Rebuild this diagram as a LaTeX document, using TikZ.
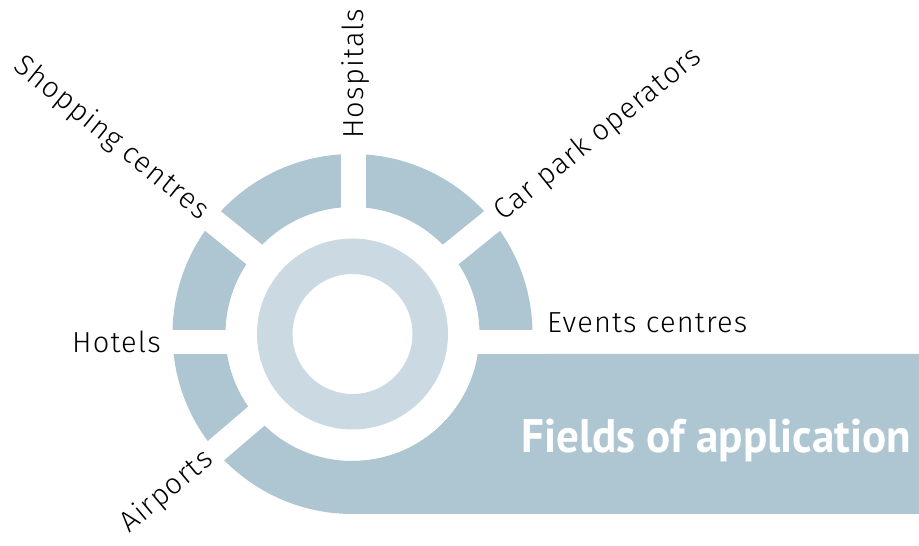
\documentclass[tikz,border=0pt]{standalone}
\usepackage{fontspec}
\setmainfont{Fira Sans}
\newfontfamily\lightfont{Fira Sans Light}[LetterSpace=4]
\newfontfamily\boldfont{PT Sans Bold}
\definecolor{segcol}{HTML}{AEC6D1}
\definecolor{ringcol}{HTML}{CBDAE2}
\newlength\titlewd
\newcommand\fittitle[2]{\settowidth\titlewd{#2}\pgfmathsetmacro\titleratio{#1/\titlewd}\scalebox{\titleratio}[1]{#2}}
\begin{document}
\begin{tikzpicture}[x=1pt,y=1pt,
  gapline/.style={draw=white,line width=25pt},
  lab/.style={inner sep=0pt,font=\lightfont\fontsize{29}{34}\selectfont,text=black}]
\useasboundingbox (0,0) rectangle (919,546);
\coordinate (c) at (352.5,212);
% outer ring
\fill[segcol,even odd rule] (c) circle (180) (c) circle (127);
% banner
\fill[segcol] (352.5,32) -- (919,32) -- (919,192) -- (477.9,192)
  arc[start angle=-9.06,end angle=-90,radius=127] -- cycle;
% gaps
\draw[gapline] ([shift={(90:100)}]c) ++(1,0) -- ++(0,88);
\draw[gapline] ([shift={(39:100)}]c) -- ([shift={(39:186)}]c);
\draw[gapline] ([shift={(141:100)}]c) -- ([shift={(141:186)}]c);
\draw[gapline] ([shift={(220.5:100)}]c) -- ([shift={(220.5:186)}]c);
\fill[white] (160,192) rectangle (250,216);
\fill[white] (455,192) rectangle (545,216);
% inner ring
\fill[ringcol,even odd rule] (c) circle (95.5) (c) circle (60);
% labels
\node[lab,anchor=base west,rotate=90] (hosp) at (363.5,407) {Hospitals};
\node[lab,anchor=east,rotate=-39] (shop) at ([shift={(141:190)}]c) {Shopping centres};
\node[lab,anchor=west,rotate=39] (car) at ([shift={(39:188)}]c) {Car park operators};
\node[lab,anchor=east,rotate=40] (air) at ([shift={(220.5:188)}]c) {Airports};
\node[lab,anchor=base west] (events) at (547,213) {Events centres};
\node[lab,anchor=base east] (hotels) at (161,193.3) {Hotels};
\node[inner sep=0pt,anchor=base west,text=white] (title) at (521,93)
  {\fittitle{390}{\boldfont\fontsize{47}{56}\selectfont Fields of application}};
\end{tikzpicture}
\end{document}
